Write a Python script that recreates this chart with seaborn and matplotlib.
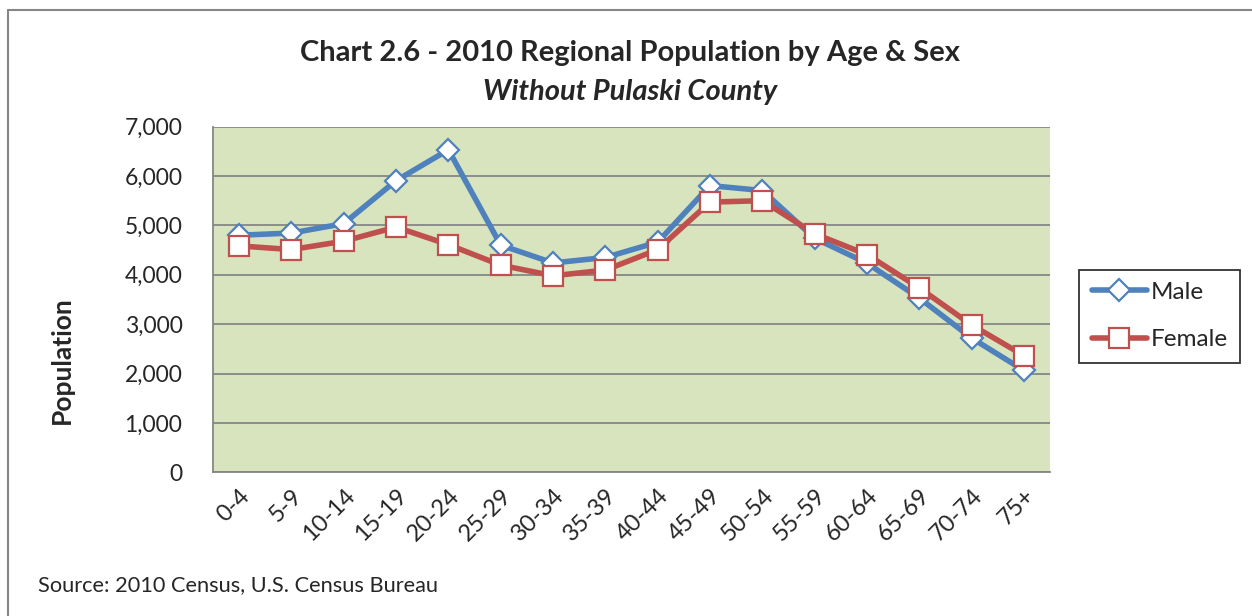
import numpy as np
import pandas as pd
import seaborn as sns
import matplotlib.pyplot as plt
from matplotlib.lines import Line2D
from matplotlib.ticker import FuncFormatter, FixedLocator
from matplotlib.transforms import ScaledTranslation

age_groups = ['0-4', '5-9', '10-14', '15-19', '20-24', '25-29', '30-34', '35-39',
              '40-44', '45-49', '50-54', '55-59', '60-64', '65-69', '70-74', '75+']
male = [4800, 4845, 5035, 5905, 6530, 4600, 4240, 4350,
        4660, 5805, 5705, 4740, 4235, 3530, 2720, 2065]
female = [4585, 4510, 4680, 4965, 4610, 4195, 3980, 4095,
          4510, 5470, 5500, 4830, 4410, 3735, 2985, 2365]

BLUE = '#4F81BD'
RED = '#C0504D'

df = pd.DataFrame({'age': age_groups * 2,
                   'pop': male + female,
                   'sex': ['Male'] * len(male) + ['Female'] * len(female)})
df['pos'] = list(range(len(age_groups))) * 2

sns.set_style('white')
plt.rcParams['font.family'] = ['Lato', 'DejaVu Sans']

fig = plt.figure(figsize=(12.52, 6.16), dpi=100)
ax = fig.add_axes([0.1701, 0.2330, 0.8387 - 0.1701, 0.7946 - 0.2330])
ax.set_facecolor('#D7E4BD')

styles = {'Male': (BLUE, 'D', 11), 'Female': (RED, 's', 14)}
for sex, (col, mk, ms) in styles.items():
    sns.lineplot(data=df[df.sex == sex], x='pos', y='pop', ax=ax, color=col,
                 linewidth=4, marker=mk, markersize=ms, markerfacecolor='white',
                 markeredgecolor=col, markeredgewidth=1.6, label=sex, zorder=3)

ax.set_xlim(-0.5, len(age_groups) - 0.5)
ax.set_ylim(0, 7000)
ax.set_yticks(range(0, 7001, 1000))
ax.yaxis.set_major_formatter(FuncFormatter(lambda v, p: f'{int(v):,}'))
ax.set_xticks(range(len(age_groups)))
ax.set_xticklabels(age_groups, rotation=45, ha='right', rotation_mode='anchor')
shift = ScaledTranslation(18 / 100, 0, fig.dpi_scale_trans)
for lab in ax.get_xticklabels():
    lab.set_transform(lab.get_transform() + shift)
ax.xaxis.set_minor_locator(FixedLocator(np.arange(-0.5, len(age_groups), 1)))
ax.tick_params(axis='x', which='major', length=0, labelsize=17, pad=9)
ax.tick_params(axis='x', which='minor', length=8, width=1.3, color='#868686', direction='out')
ax.tick_params(axis='y', length=8, width=1.3, color='#868686', labelsize=16.5, pad=14)
ax.grid(axis='y', color='#868686', linewidth=1.3)
ax.set_axisbelow(True)
for s in ['top', 'right']:
    ax.spines[s].set_visible(False)
for s in ['left', 'bottom']:
    ax.spines[s].set_color('#868686')
    ax.spines[s].set_linewidth(1.3)

ax.set_xlabel('')
ax.set_ylabel('Population', fontsize=19, fontweight='bold')
ax.yaxis.set_label_coords(-0.166, 0.326)

ax.legend(loc='center left', bbox_to_anchor=(1.035, 0.452), frameon=True,
          fancybox=False, edgecolor='black', fontsize=17.5, handlelength=2.3,
          labelspacing=1.1, borderpad=0.5, handletextpad=0.15, numpoints=1,
          borderaxespad=0)
ax.get_legend().get_frame().set_linewidth(1.3)

fig.text(0.503, 0.914, 'Chart 2.6 - 2010 Regional Population by Age & Sex',
         ha='center', va='center', fontsize=21, fontweight='bold')
fig.text(0.503, 0.851, 'Without Pulaski County', ha='center', va='center',
         fontsize=21, fontweight='bold', style='italic')
fig.text(0.030, 0.050, 'Source: 2010 Census, U.S. Census Bureau', ha='left',
         va='center', fontsize=15.7)

fig.add_artist(Line2D([0.0064, 1.0], [0.9835, 0.9835], color='#868686', lw=1.5))
fig.add_artist(Line2D([0.0064, 0.0064], [0.0, 0.9835], color='#868686', lw=1.5))

fig.savefig('out.png', dpi=100)
